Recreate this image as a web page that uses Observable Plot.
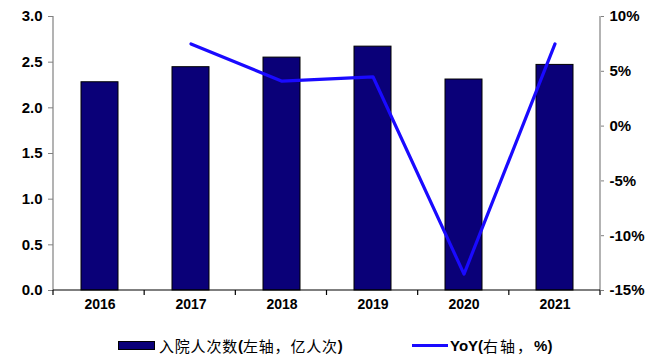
<!DOCTYPE html>
<html><head><meta charset="utf-8">
<script src="https://cdn.jsdelivr.net/npm/d3@7"></script>
<script src="https://cdn.jsdelivr.net/npm/@observablehq/plot@0.6"></script>
<style>
body{margin:0;background:#fff;font-family:"Liberation Sans",Arial,sans-serif;}
#legend{position:relative;height:38px;font-size:15px;}
.item{position:absolute;top:15px;height:20px;display:flex;align-items:center;white-space:nowrap;font-weight:bold;}
.cn{font-family:"Noto Sans CJK SC",sans-serif;font-weight:normal;font-size:15px;letter-spacing:2px;}
.cn.tight{letter-spacing:0.8px;}
</style></head><body>
<div id="chart"></div>
<div id="legend"></div>
<script>
const years = ["2016","2017","2018","2019","2020","2021"];
const admissions = [2.28, 2.445, 2.55, 2.67, 2.31, 2.47];
const yoy = [null, 7.5, 4.1, 4.5, -13.5, 7.5];
const leftTicks = [0, 0.5, 1.0, 1.5, 2.0, 2.5, 3.0];
const rightTicks = [-15, -10, -5, 0, 5, 10];
const barLabelParts = ["入院人次数", "(", "左轴，亿人次", ")"];
const lineLabelParts = ["YoY(", "右轴，", "%)"];

const toLeft = v => (v + 15) / 25 * 3;
const fromLeft = d => d / 3 * 25 - 15;

const bars = years.map((y, i) => ({year: y, value: admissions[i]}));
const line = years.map((y, i) => ({year: y, yoy: yoy[i]})).filter(d => d.yoy != null);

const axisColor = "#808080";
const frameMark = (index, scales, values, dim) => {
  const g = d3.create("svg:g").attr("stroke", axisColor).attr("stroke-width", 1.2);
  const x0 = dim.marginLeft, x1 = dim.width - dim.marginRight;
  const y0 = dim.marginTop, y1 = dim.height - dim.marginBottom;
  g.append("line").attr("x1", x0).attr("x2", x0).attr("y1", y0).attr("y2", y1);
  g.append("line").attr("x1", x1).attr("x2", x1).attr("y1", y0).attr("y2", y1);
  g.append("line").attr("x1", x0).attr("x2", x1).attr("y1", y1).attr("y2", y1).attr("stroke", "#000");
  const step = (x1 - x0) / years.length;
  for (let i = 0; i <= years.length; i++) {
    const x = x0 + i * step;
    g.append("line").attr("x1", x).attr("x2", x).attr("y1", y1).attr("y2", y1 + 5).attr("stroke", "#000");
  }
  return g.node();
};

const chart = Plot.plot({
  width: 665,
  height: 320,
  marginLeft: 53,
  marginRight: 65,
  marginTop: 16,
  marginBottom: 30,
  style: {fontFamily: "'Liberation Sans', Arial, sans-serif", fontSize: "15px", fontWeight: "bold", color: "#000"},
  x: {domain: years, paddingInner: 0.594, paddingOuter: 0.297, label: null},
  y: {domain: [0, 3], label: null},
  marks: [
    Plot.axisY(leftTicks, {anchor: "left", tickFormat: d3.format(".1f"), tickSize: 5, stroke: axisColor, tickPadding: 6, label: null, fontSize: 15}),
    Plot.axisY(rightTicks.map(toLeft), {anchor: "right", tickFormat: d => Math.round(fromLeft(d)) + "%", tickSize: 3, stroke: axisColor, tickPadding: 6, label: null, fontSize: 15}),
    Plot.axisX({tickSize: 0, tickPadding: 9, label: null, fontSize: 14}),
    Plot.barY(bars, {x: "year", y: "value", fill: "#0a0078", stroke: "#000", strokeWidth: 1}),
    Plot.line(line, {x: "year", y: d => toLeft(d.yoy), stroke: "#1a0aff", strokeWidth: 3.2}),
    frameMark
  ]
});
document.getElementById("chart").appendChild(chart);

const legend = document.getElementById("legend");
legend.innerHTML = `
<div class="item" style="left:118px"><span style="display:inline-block;width:35px;height:7px;background:#0a0078;border:1px solid #000;margin-right:4px"></span><span class="cn tight">${barLabelParts[0]}</span><span>${barLabelParts[1]}</span><span class="cn tight">${barLabelParts[2]}</span><span>${barLabelParts[3]}</span></div>
<div class="item" style="left:412px"><span style="display:inline-block;width:36px;height:3px;background:#1a0aff;margin-right:2px"></span><span>${lineLabelParts[0]}</span><span class="cn">${lineLabelParts[1]}</span><span>${lineLabelParts[2]}</span></div>`;
</script>
</body></html>
